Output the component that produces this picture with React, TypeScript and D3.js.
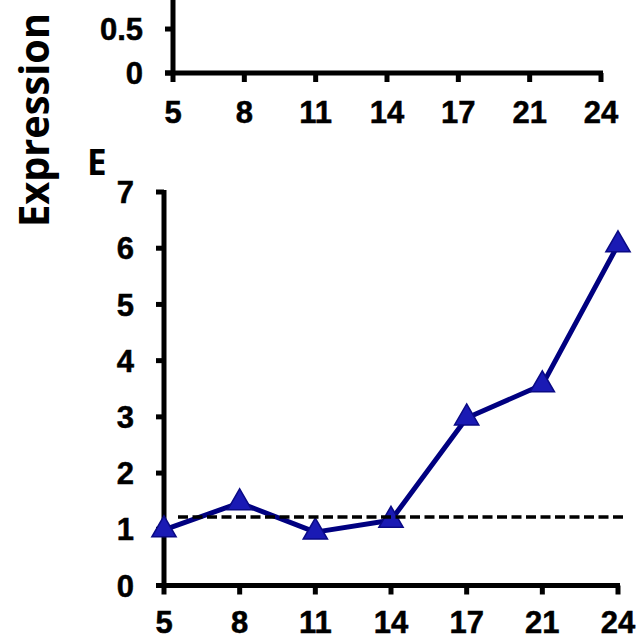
import React from "react";
import * as d3 from "d3";

// Panel E data (time points on x, relative expression on y)
const categories = ["5", "8", "11", "14", "17", "21", "24"];
const seriesE = [0.99, 1.47, 0.95, 1.16, 2.98, 3.57, 6.06];
const thresholdE = 1.22;
const yTicksE = [0, 1, 2, 3, 4, 5, 6, 7];
// Panel above (only its bottom part is visible)
const yTicksTop = [0, 0.5];
const yTopMax = 0.83;

const W = 636;
const H = 639;
const FONT = "'Liberation Sans', Arial, sans-serif";
const TITLE_FONT = "'Open Sans', 'Noto Sans', sans-serif";

export default function App() {
  // Top panel scales
  const xTop = d3.scalePoint<string>().domain(categories).range([173, 601]);
  const yTop = d3.scaleLinear().domain([0, yTopMax]).range([73, 0]);
  // Bottom panel scales
  const x = d3.scalePoint<string>().domain(categories).range([164, 618]);
  const y = d3.scaleLinear().domain([0, 7]).range([585.5, 192]);

  const line = d3
    .line<number>()
    .x((_, i) => x(categories[i]) as number)
    .y((d) => y(d));
  const tri = d3.symbol(d3.symbolTriangle, 255)();

  const axisW = 5;
  const labelSize = 31;
  const labelProps = {
    fontFamily: FONT,
    fontWeight: "bold" as const,
    fontSize: labelSize,
    fill: "#000",
    stroke: "#000",
    strokeWidth: 0.5,
  };

  return (
    <svg
      width={W}
      height={H}
      style={{ position: "absolute", left: 0, top: 0, background: "#fff" }}
    >
      <rect width={W} height={H} fill="#fff" />
      {/* Y axis title */}
      <text
        transform={`translate(49,120) rotate(-90)`}
        textAnchor="middle"
        fontFamily={TITLE_FONT}
        fontWeight="bold"
        fontSize={41}
        textLength={214}
        lengthAdjust="spacingAndGlyphs"
        fill="#000"
      >
        Expression
      </text>

      {/* ---------- Top panel (partial) ---------- */}
      <g>
        <line x1={173} x2={173} y1={yTop(yTopMax)} y2={yTop(0)} stroke="#000" strokeWidth={axisW} />
        <line x1={165} x2={(xTop(categories[categories.length - 1]) as number) + 2} y1={yTop(0)} y2={yTop(0)} stroke="#000" strokeWidth={axisW} />
        {yTicksTop.map((t) => (
          <g key={"yt" + t}>
            <line x1={165} x2={173} y1={yTop(t)} y2={yTop(t)} stroke="#000" strokeWidth={axisW} />
            <text x={143} y={yTop(t)} dy="0.36em" textAnchor="end" {...labelProps}>
              {t}
            </text>
          </g>
        ))}
        {categories.map((c) => (
          <g key={"xt" + c}>
            <line x1={xTop(c)} x2={xTop(c)} y1={yTop(0)} y2={yTop(0) + 9} stroke="#000" strokeWidth={axisW} />
            <text x={xTop(c)} y={123} textAnchor="middle" {...labelProps}>
              {c}
            </text>
          </g>
        ))}
      </g>

      {/* ---------- Panel E ---------- */}
      <text x={87} y={175} fontFamily={TITLE_FONT} fontWeight="bold" fontSize={35} fill="#000">
        E
      </text>
      <g>
        <line x1={164} x2={164} y1={y(7) - 2} y2={y(0)} stroke="#000" strokeWidth={axisW} />
        <line x1={156} x2={(x(categories[categories.length - 1]) as number) + 2} y1={y(0)} y2={y(0)} stroke="#000" strokeWidth={axisW} />
        {yTicksE.map((t) => (
          <g key={"ye" + t}>
            <line x1={156} x2={164} y1={y(t)} y2={y(t)} stroke="#000" strokeWidth={axisW} />
            <text x={134} y={y(t)} dy="0.36em" textAnchor="end" {...labelProps}>
              {t}
            </text>
          </g>
        ))}
        {categories.map((c) => (
          <g key={"xe" + c}>
            <line x1={x(c)} x2={x(c)} y1={y(0)} y2={y(0) + 9} stroke="#000" strokeWidth={axisW} />
            <text x={x(c)} y={633} textAnchor="middle" {...labelProps}>
              {c}
            </text>
          </g>
        ))}

        <path d={line(seriesE) || ""} fill="none" stroke="#000080" strokeWidth={5} strokeLinejoin="round" />
        {seriesE.map((v, i) => (
          <path
            key={"m" + i}
            d={tri || ""}
            transform={`translate(${x(categories[i])},${y(v)})`}
            fill="#1a1ab4"
            stroke="#0a0a85"
            strokeWidth={1.5}
          />
        ))}
        <line
          x1={178}
          x2={627}
          y1={y(thresholdE)}
          y2={y(thresholdE)}
          stroke="#000"
          strokeWidth={3.5}
          strokeDasharray="10 4.5"
        />
      </g>
    </svg>
  );
}
